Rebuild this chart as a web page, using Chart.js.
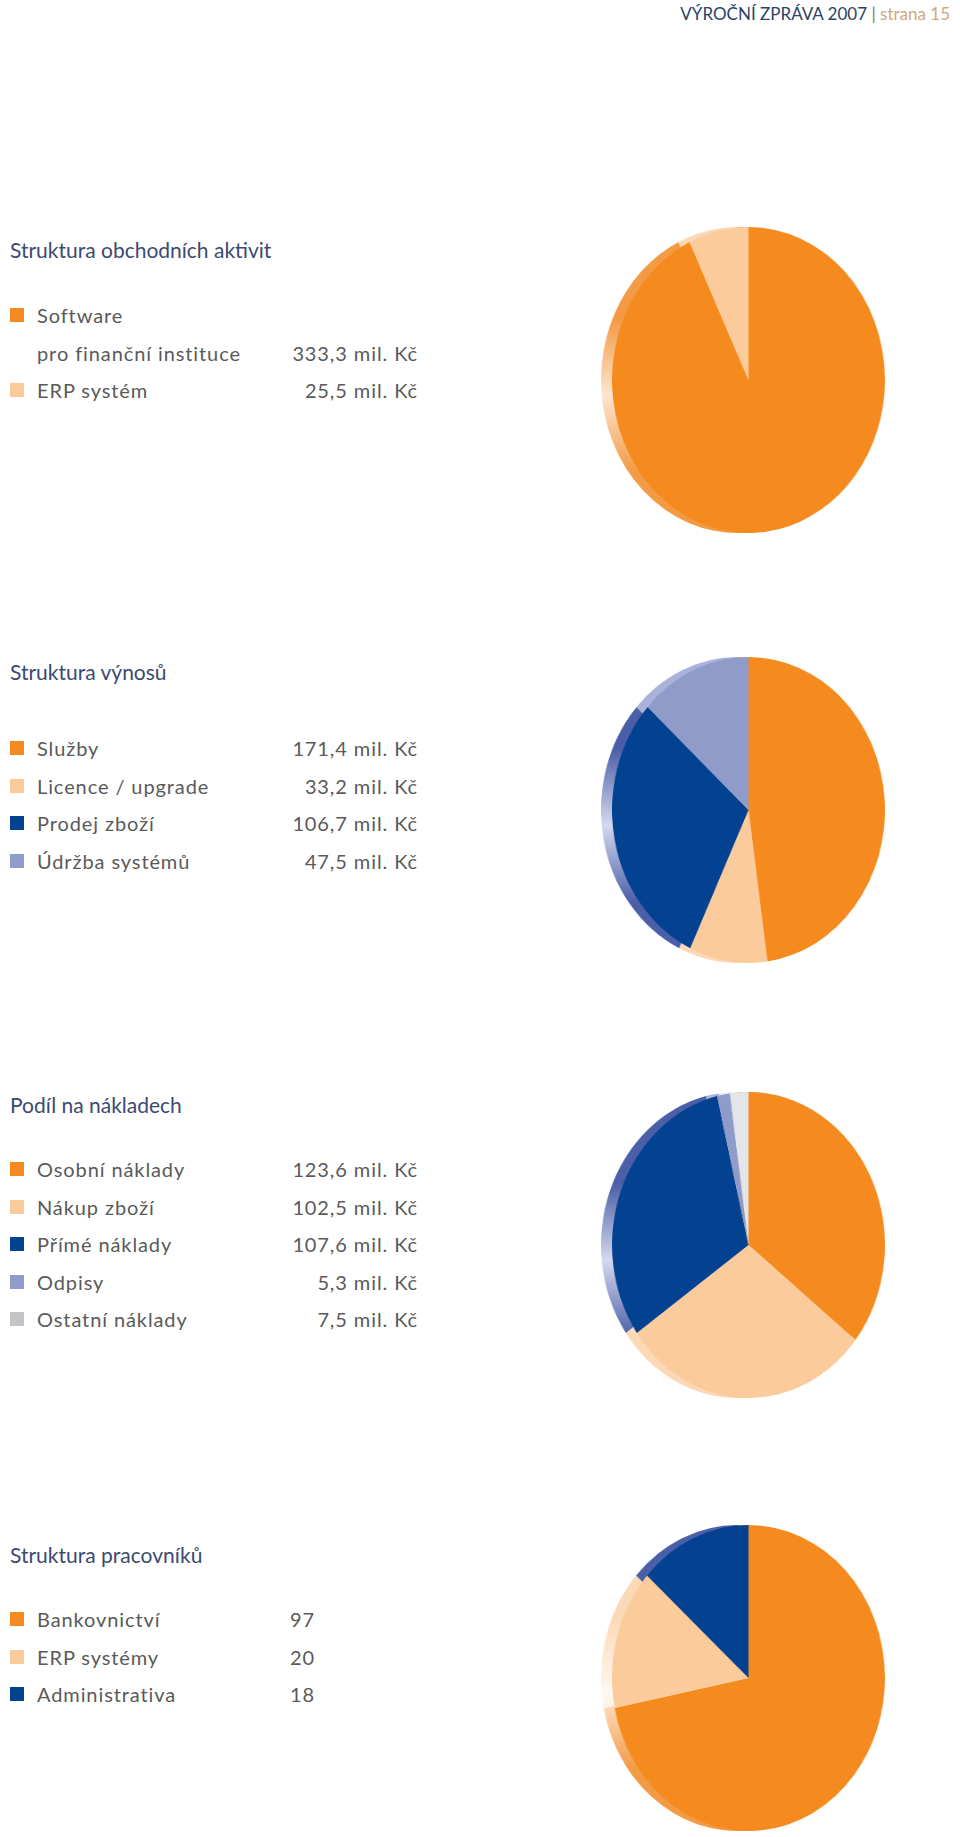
<!DOCTYPE html>
<html><head><meta charset="utf-8">
<script src="https://cdn.jsdelivr.net/npm/chart.js@4.4.1/dist/chart.umd.min.js"></script>
<style>
body{margin:0;width:960px;height:1837px;background:#fff;font-family:Lato,"Open Sans",sans-serif;position:relative;overflow:hidden}
.abs{position:absolute;white-space:nowrap}
.title{font-size:21px;line-height:28px;color:#3b4a70}
.row{font-size:20px;line-height:24px;color:#5a5a5a;letter-spacing:0.9px}
.sw{position:absolute;width:14px;height:14px}
.pie{position:absolute;width:306px;height:306px;transform-origin:0 0;transform:scaleX(0.892)}
</style></head><body>
<div class="abs" style="right:10px;top:3px;font-size:17px;line-height:22px"><span style="color:#2a4366">VÝROČNÍ ZPRÁVA 2007</span> <span style="color:#7a7a7a">|</span> <span style="color:#cfa77f">strana 15</span></div>
<div id="root"></div>
<script>
// ---- data ----
const unit = "mil. Kč";
const activityTitle = "Struktura obchodních aktivit";
const activityLabels = [["Software", "pro finanční instituce"], ["ERP systém"]];
const activityValues = [333.3, 25.5];

const revenueTitle = "Struktura výnosů";
const revenueLabels = ["Služby", "Licence / upgrade", "Prodej zboží", "Údržba systémů"];
const revenueValues = [171.4, 33.2, 106.7, 47.5];

const costTitle = "Podíl na nákladech";
const costLabels = ["Osobní náklady", "Nákup zboží", "Přímé náklady", "Odpisy", "Ostatní náklady"];
const costValues = [123.6, 102.5, 107.6, 5.3, 7.5];

const staffTitle = "Struktura pracovníků";
const staffLabels = ["Bankovnictví", "ERP systémy", "Administrativa"];
const staffValues = [97, 20, 18];

// ---- styles ----
const C = {orange:"#f58b1f", peach:"#fccb9c", blue:"#034191", lav:"#8f9bc9", grey:"#c4c4c8", greyPie:"#e4e5e8"};
const RIM = {"#f58b1f":["#f39a45","#fde6cf"], "#fccb9c":["#fcd9b6","#fff8f0"], "#034191":["#4b5fa8","#d4d9ee"],
             "#8f9bc9":["#a9b2da","#e6e9f5"], "#e4e5e8":["#eeeef0","#fafafa"]};

const sections = [
  {title:activityTitle, labels:activityLabels, values:activityValues, fmt:"mil",
   legend:[C.orange,C.peach], pie:[C.orange,C.peach], titleY:250, rowY:315, valRight:418, pieY:380},
  {title:revenueTitle, labels:revenueLabels, values:revenueValues, fmt:"mil",
   legend:[C.orange,C.peach,C.blue,C.lav], pie:[C.orange,C.peach,C.blue,C.lav], titleY:672, rowY:748, valRight:418, pieY:810},
  {title:costTitle, labels:costLabels, values:costValues, fmt:"mil",
   legend:[C.orange,C.peach,C.blue,C.lav,C.grey], pie:[C.orange,C.peach,C.blue,C.lav,C.greyPie], titleY:1105, rowY:1169, valRight:418, pieY:1245},
  {title:staffTitle, labels:staffLabels, values:staffValues, fmt:"int",
   legend:[C.orange,C.peach,C.blue], pie:[C.orange,C.peach,C.blue], titleY:1555, rowY:1619, valRight:315, pieY:1678}
];
const STEP = 37.5;

function fmtVal(v, f){
  if (f === "int") return String(v);
  return v.toFixed(1).replace(".", ",") + " " + unit;
}

const root = document.getElementById("root");
function add(html){ root.insertAdjacentHTML("beforeend", html); }

sections.forEach((s, si) => {
  add(`<div class="abs title" style="left:10px;top:${s.titleY-14}px">${s.title}</div>`);
  let line = 0;
  s.labels.forEach((lab, i) => {
    const lines = Array.isArray(lab) ? lab : [lab];
    const y0 = s.rowY + line*STEP;
    add(`<div class="sw" style="left:10px;top:${y0-7}px;background:${s.legend[i]}"></div>`);
    lines.forEach((t, k) => {
      add(`<div class="abs row" style="left:37px;top:${y0 + k*STEP - 12}px">${t}</div>`);
    });
    const yv = y0 + (lines.length-1)*STEP;
    add(`<div class="abs row" style="right:${960-s.valRight}px;top:${yv-12}px">${fmtVal(s.values[i], s.fmt)}</div>`);
    line += lines.length;
  });
  const top = s.pieY - 153;
  add(`<div class="pie" style="left:601px;top:${top}px"><canvas id="rim${si}" width="306" height="306"></canvas></div>`);
  add(`<div class="pie" style="left:612px;top:${top}px"><canvas id="pie${si}" width="306" height="306"></canvas></div>`);
});

function pie(id, labels, values, bg){
  return new Chart(document.getElementById(id), {
    type: "pie",
    data: {labels: labels.map(l => Array.isArray(l) ? l.join(" ") : l),
           datasets: [{data: values, backgroundColor: bg, borderWidth: 0, hoverOffset: 0, offset: 0}]},
    options: {responsive: false, animation: false, events: [], devicePixelRatio: 1,
              layout: {padding: 0},
              plugins: {legend: {display: false}, tooltip: {enabled: false}}}
  });
}
function rimColor(colors){
  return function(ctx){
    const c = colors[ctx.dataIndex];
    const pair = RIM[c] || [c, c];
    const area = ctx.chart.chartArea;
    if (!area || !area.bottom) return pair[0];
    const g = ctx.chart.ctx.createLinearGradient(0, area.top, 0, area.bottom);
    g.addColorStop(0, pair[0]);
    g.addColorStop(0.3, pair[0]);
    g.addColorStop(0.55, pair[1]);
    g.addColorStop(0.8, pair[0]);
    g.addColorStop(1, pair[0]);
    return g;
  };
}
sections.forEach((s, si) => {
  pie("rim"+si, s.labels, s.values, rimColor(s.pie));
  pie("pie"+si, s.labels, s.values, s.pie);
});
</script>
</body></html>
